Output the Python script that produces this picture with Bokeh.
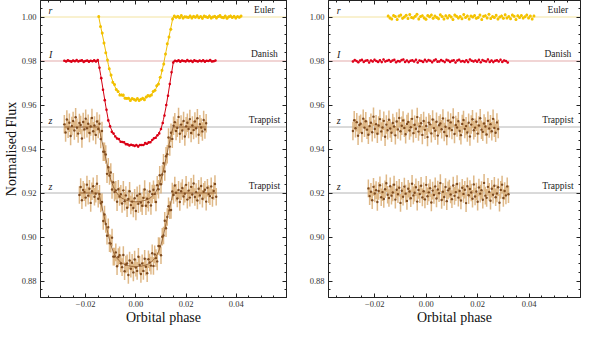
import numpy as np
from bokeh.plotting import figure
from bokeh.layouts import row
from bokeh.models import (Range1d, Span, Label, LinearAxis, FixedTicker,
                          CustomJSTickFormatter, ColumnDataSource)
from bokeh.embed import file_html
from bokeh.resources import INLINE

U = 1e-4  # phases, fluxes and residuals below are in units of 1e-4

instruments = ["Euler", "Danish", "Trappist", "Trappist"]
bands = ["r", "I", "z", "z"]
baselines = [1.00, 0.98, 0.95, 0.92]
errors = [0.0006, 0.0004, 0.0042, 0.0040]

x_ticks = [-0.02, 0.00, 0.02, 0.04]
y_ticks = [0.88, 0.90, 0.92, 0.94, 0.96, 0.98, 1.00]

euler_phase = [-148,-141,-134,-127,-120,-113,-106,-99,-92,-85,
               -78,-71,-64,-57,-50,-43,-36,-29,-22,-15,
               -8,-1,6,13,20,27,34,41,48,55,
               62,69,76,83,90,97,104,111,118,125,
               132,139,146,153,160,167,174,181,188,195,
               202,209,216,223,230,237,244,251,258,265,
               272,279,286,293,300,307,314,321,328,335,
               342,349,356,363,370,377,384,391,398,405,
               412,419]
euler_flux = [10002,9957,9927,9882,9837,9805,9765,9736,9703,9693,
              9670,9661,9646,9646,9645,9631,9630,9631,9621,9629,
              9626,9622,9629,9621,9626,9631,9624,9636,9643,9641,
              9646,9661,9667,9688,9695,9726,9758,9786,9832,9878,
              9909,9944,9991,10004,9999,10003,9997,10007,9995,10001,
              10000,9998,10005,9996,10003,9999,10006,9997,10002,9994,
              10004,10001,9998,10005,9995,10000,10003,9996,10002,10007,
              9999,9997,10004,9994,10001,10005,9998,10003,9995,10002,
              9999,10004]
euler_resid = [5,-4,-9,7,2,-11,4,9,-6,0,
               8,-7,11,-2,-5,3,12,-9,2,6,
               -4,-10,7,1,9,-6,4,-2,-8,10,
               2,-9,6,-4,7,0,-11,9,3,-5,
               2,-8,11,-2,5,-9,4,0,7,-6,
               -2,9,-11,3,6,-4,12,-7,2,-2,
               8,-9,0,5,-6,10,-4,2,-8,9,
               3,-11,6,-2,7,-5,1,9,-4,4,
               -9,5]

danish_phase = [-285,-278,-271,-264,-257,-250,-243,-236,-229,-222,
                -215,-208,-201,-194,-187,-180,-173,-166,-159,-152,
                -145,-138,-131,-124,-117,-110,-103,-96,-89,-82,
                -75,-68,-61,-54,-47,-40,-33,-26,-19,-12,
                -5,2,9,16,23,30,37,44,51,58,
                65,72,79,86,93,100,107,114,121,128,
                135,142,149,156,163,170,177,184,191,198,
                205,212,219,226,233,240,247,254,261,268,
                275,282,289,296,303,310,317]
danish_flux = [9801,9798,9803,9800,9797,9802,9799,9804,9798,9801,
               9803,9796,9800,9802,9797,9801,9799,9803,9798,9804,
               9769,9722,9669,9622,9578,9530,9503,9478,9470,9457,
               9448,9445,9433,9432,9431,9422,9421,9416,9419,9417,
               9414,9418,9411,9418,9418,9418,9427,9424,9430,9431,
               9441,9449,9451,9462,9471,9491,9518,9552,9600,9642,
               9695,9749,9793,9801,9799,9803,9797,9802,9800,9798,
               9804,9799,9801,9796,9803,9800,9798,9802,9799,9803,
               9797,9801,9800,9804,9798,9799,9802]
danish_resid = [-2,4,0,-6,2,5,-4,1,3,-7,
                2,-2,6,0,-4,3,-5,7,-2,1,
                4,-3,2,5,-6,0,-2,4,7,-4,
                2,-5,1,3,-2,6,-7,2,0,-4,
                5,-2,4,1,-6,2,7,-3,-2,4,
                0,-5,5,2,-4,1,3,-7,2,6,
                -2,0,-4,3,-5,7,1,-2,2,-3,
                5,-6,4,0,-2,7,-4,2,-5,1,
                3,-2,6,-4,2,0,-7]

trap1_phase = [-285,-280,-275,-270,-265,-260,-255,-250,-245,-240,
               -235,-230,-225,-220,-215,-210,-205,-200,-195,-190,
               -185,-180,-175,-170,-165,-160,-155,-150,-145,-140,
               -135,-130,-125,-120,-115,-110,-105,-100,-95,-90,
               -85,-80,-75,-70,-65,-60,-55,-50,-45,-40,
               -35,-30,-25,-20,-15,-10,-5,0,5,10,
               15,20,25,30,35,40,45,50,55,60,
               65,70,75,80,85,90,95,100,105,110,
               115,120,125,130,135,140,145,150,155,160,
               165,170,175,180,185,190,195,200,205,210,
               215,220,225,230,235,240,245,250,255,260,
               265,270,275,280]
trap1_flux = [9512,9475,9534,9492,9519,9459,9505,9527,9484,9544,
              9497,9470,9518,9509,9448,9523,9489,9538,9494,9515,
              9473,9502,9541,9481,9507,9464,9525,9491,9515,9445,
              9482,9388,9387,9375,9287,9317,9279,9293,9216,9249,
              9204,9212,9160,9217,9184,9194,9152,9212,9163,9189,
              9133,9173,9208,9145,9161,9132,9176,9118,9188,9151,
              9196,9157,9142,9178,9216,9142,9174,9158,9207,9143,
              9195,9215,9196,9159,9235,9217,9281,9240,9284,9335,
              9298,9367,9376,9452,9411,9474,9446,9506,9522,9482,
              9496,9546,9469,9511,9484,9527,9457,9503,9519,9491,
              9536,9473,9507,9486,9525,9494,9540,9465,9513,9498,
              9480,9532,9489,9517]
trap1_resid = [-18,31,-6,22,-40,9,15,-27,38,-3,
               26,-12,-35,4,19,-24,47,-9,13,-31,
               7,36,-20,-2,28,-44,11,-15,33,-7,
               -26,18,2,-38,25,-11,41,-19,6,30,
               -4,-33,14,23,-16,-1,37,-28,10,-8,
               45,-21,3,17,-36,27,-13,5,-46,20,
               12,-29,34,-5,-17,24,-39,8,16,-10,
               39,-23,1,-41,29,-6,21,-14,43,-32,
               9,-2,26,-18,-37,14,32,-9,4,-25,
               19,-43,11,35,-15,-3,24,-30,7,40,
               -12,-22,16,2,-34,28,-7,13,-19,37,
               -4,-26,21,-9]

trap2_phase = [-225,-220,-215,-210,-205,-200,-195,-190,-185,-180,
               -175,-170,-165,-160,-155,-150,-145,-140,-135,-130,
               -125,-120,-115,-110,-105,-100,-95,-90,-85,-80,
               -75,-70,-65,-60,-55,-50,-45,-40,-35,-30,
               -25,-20,-15,-10,-5,0,5,10,15,20,
               25,30,35,40,45,50,55,60,65,70,
               75,80,85,90,95,100,105,110,115,120,
               125,130,135,140,145,150,155,160,165,170,
               175,180,185,190,195,200,205,210,215,220,
               225,230,235,240,245,250,255,260,265,270,
               275,280,285,290,295,300,305,310,315,320]
trap2_flux = [9191,9227,9167,9214,9204,9179,9238,9188,9219,9155,
              9208,9231,9183,9197,9242,9174,9196,9153,9159,9073,
              9102,9059,9006,9044,8972,8970,8997,8911,8911,8930,
              8867,8909,8917,8880,8863,8918,8844,8875,8880,8827,
              8893,8856,8883,8839,8898,8861,8846,8910,8873,8832,
              8880,8846,8901,8865,8835,8899,8884,8870,8926,8868,
              8921,8904,8889,8959,8958,8917,9001,9007,9074,9040,
              9091,9140,9122,9123,9207,9191,9234,9201,9175,9214,
              9159,9208,9223,9184,9197,9237,9170,9211,9179,9228,
              9193,9243,9182,9204,9166,9219,9189,9232,9174,9206,
              9215,9161,9224,9195,9186,9230,9178,9209,9241,9183]
trap2_resid = [21,-14,6,-33,28,-2,13,-41,9,35,
               -19,4,-27,17,44,-8,-23,31,-12,2,
               38,-30,15,-6,24,-45,10,-17,29,-3,
               -36,19,7,-24,42,-11,1,26,-39,14,
               -5,33,-20,8,-29,37,-15,3,22,-43,
               11,-9,30,-25,16,-1,45,-32,6,-18,
               27,-37,12,20,-7,-28,34,-13,4,41,
               -21,9,-34,24,-4,15,-46,31,-10,18,
               2,-26,39,-16,7,-40,25,-3,13,-31,
               46,-12,-22,28,5,-35,19,-8,33,-19,
               -2,26,-44,14,38,-23,9,-11,30,-6]

# fitted transit models: phase and depth below the baseline
euler_model_phase = [-148,-140,-130,-120,-110,-100,-90,-80,-70,-60,-50,-40,-30,-20,-10,0,
                     10,20,30,40,50,60,70,80,90,100,110,120,130,140,148,419]
euler_model_drop = [0,45,100,157,215,265,300,325,342,354,362,367,371,374,375,376,
                    375,374,371,367,362,354,342,325,300,265,215,157,100,45,0,0]
danish_model_phase = [-285,-150,-140,-130,-120,-110,-100,-90,-80,-70,-60,-50,-40,-30,-20,-10,0,
                      10,20,30,40,50,60,70,80,90,100,110,120,130,140,150,317]
danish_model_drop = [0,0,66,135,205,268,305,330,345,356,365,371,376,380,383,384,385,
                     385,384,381,377,373,366,356,345,330,310,265,209,141,69,0,0]
trap1_model_phase = [-285,-148,-140,-130,-120,-110,-100,-90,-80,-70,-60,-50,-40,-30,-20,-10,0,
                     10,20,30,40,50,60,70,80,90,100,110,120,130,140,148,280]
trap1_model_drop = [0,0,41,90,142,194,240,271,294,309,320,327,332,335,338,339,340,
                    339,338,335,332,327,320,309,294,271,240,194,142,90,41,0,0]
trap2_model_phase = [-225,-148,-140,-130,-120,-110,-100,-90,-80,-70,-60,-50,-40,-30,-20,-10,0,
                     10,20,30,40,50,60,70,80,90,100,110,120,130,140,148,320]
trap2_model_drop = [0,0,40,89,140,191,236,267,290,304,315,322,327,330,333,334,335,
                    334,333,330,327,322,315,304,290,267,236,191,140,89,40,0,0]

series = [
    (euler_phase, euler_flux, euler_resid, euler_model_phase, euler_model_drop),
    (danish_phase, danish_flux, danish_resid, danish_model_phase, danish_model_drop),
    (trap1_phase, trap1_flux, trap1_resid, trap1_model_phase, trap1_model_drop),
    (trap2_phase, trap2_flux, trap2_resid, trap2_model_phase, trap2_model_drop),
]

point_colors = ["#f4c300", "#e0001a", "#7e4a1e", "#7e4a1e"]
err_colors = ["#f4c300", "#e0001a", "#d9ab72", "#d9ab72"]
err_widths = [1, 1, 1.5, 1.5]
err_alphas = [0.8, 0.8, 0.85, 0.85]
model_colors = ["#f0be00", "#d40010", "#8a5526", "#8a5526"]
model_widths = [1, 1, 0.8, 0.8]
point_sizes = [3.0, 2.6, 2.4, 2.4]
span_colors = ["#f3e3a0", "#e3abab", "#b4b4b4", "#b4b4b4"]

FONT = "Liberation Serif"
FRAME = "#222222"

x_fmt = CustomJSTickFormatter(code="return (tick < -1e-9 ? '\\u2212' : '') + Math.abs(tick).toFixed(2);")
y_fmt = CustomJSTickFormatter(code="return tick.toFixed(2);")


def x_ticker():
    minor = [k * 0.005 for k in range(-8, 13)]
    return FixedTicker(ticks=x_ticks, minor_ticks=minor)


def y_ticker():
    minor = [0.868 + k * 0.004 for k in range(0, 36)]
    return FixedTicker(ticks=y_ticks, minor_ticks=minor)


def style_axis(ax, labels=True, standoff=4):
    ax.major_tick_in = 4
    ax.major_tick_out = 0
    ax.minor_tick_in = 2
    ax.minor_tick_out = 0
    ax.axis_line_color = FRAME
    ax.major_tick_line_color = FRAME
    ax.minor_tick_line_color = FRAME
    ax.major_label_text_font = FONT
    if labels:
        ax.major_label_text_font_size = "8.5px"
        ax.major_label_standoff = standoff
        ax.major_label_text_color = "#333333"
    else:
        ax.major_label_text_font_size = "1px"
        ax.major_label_standoff = 0
        ax.major_label_text_color = None
    ax.axis_label_text_font = FONT
    ax.axis_label_text_font_size = "14px"
    ax.axis_label_text_font_style = "normal"
    ax.axis_label_text_color = "#111111"
    ax.axis_label_standoff = 0


def panel(residual, width, border_left, ylabel):
    p = figure(width=width, height=327, x_range=Range1d(-0.038, 0.060),
               y_range=Range1d(0.8725, 1.0075), output_backend="svg",
               toolbar_location=None, min_border_left=border_left,
               min_border_right=4, min_border_top=0, min_border_bottom=29)
    p.xgrid.visible = False
    p.ygrid.visible = False
    p.outline_line_color = FRAME
    p.background_fill_color = "white"

    xb = p.below[0]
    xb.ticker = x_ticker()
    xb.formatter = x_fmt
    style_axis(xb, standoff=3)
    xb.axis_label = "Orbital phase"
    yl = p.left[0]
    yl.ticker = y_ticker()
    yl.formatter = y_fmt
    style_axis(yl)
    if ylabel:
        yl.axis_label = ylabel

    xt = LinearAxis(ticker=x_ticker(), formatter=x_fmt)
    style_axis(xt, labels=False)
    p.add_layout(xt, "above")
    yr = LinearAxis(ticker=y_ticker(), formatter=y_fmt)
    style_axis(yr, labels=False)
    p.add_layout(yr, "right")

    for k, base in enumerate(baselines):
        p.add_layout(Span(location=base, dimension="width", line_color=span_colors[k],
                          line_width=1, level="underlay"))
        p.add_layout(Label(x=-0.034, y=base + 0.003, text=bands[k], text_font=FONT,
                           text_font_style="italic", text_font_size="10px",
                           text_align="center", text_baseline="middle",
                           text_color="#222222"))
        p.add_layout(Label(x=0.0512, y=base + 0.003, text=instruments[k], text_font=FONT,
                           text_font_size="9.5px", text_align="center",
                           text_baseline="middle", text_color="#222222"))

    for k, (ph, fl, rs, mph, mdr) in enumerate(series):
        x = np.array(ph, dtype=float) * U
        if residual:
            y = baselines[k] + np.array(rs, dtype=float) * U
        else:
            y = np.array(fl, dtype=float) * U
        n = min(len(x), len(y))
        x, y = x[:n], y[:n]
        src = ColumnDataSource(dict(x=x, y=y, lo=y - errors[k], hi=y + errors[k]))
        p.segment(x0="x", y0="lo", x1="x", y1="hi", source=src,
                  line_color=err_colors[k], line_width=err_widths[k],
                  line_alpha=err_alphas[k])
        p.scatter("x", "y", source=src, size=point_sizes[k], fill_color=point_colors[k],
                  line_color=None)
        if not residual:
            mx = np.array(mph, dtype=float) * U
            my = baselines[k] - np.array(mdr, dtype=float) * U
            m = min(len(mx), len(my))
            p.line(mx[:m], my[:m], line_color=model_colors[k], line_width=model_widths[k])
    return p


p1 = panel(False, 290, 34, "Normalised Flux")
p2 = panel(True, 294, 38, None)
layout = row(p1, p2)

open("out.html", "w", encoding="utf-8").write(file_html(layout, INLINE))
